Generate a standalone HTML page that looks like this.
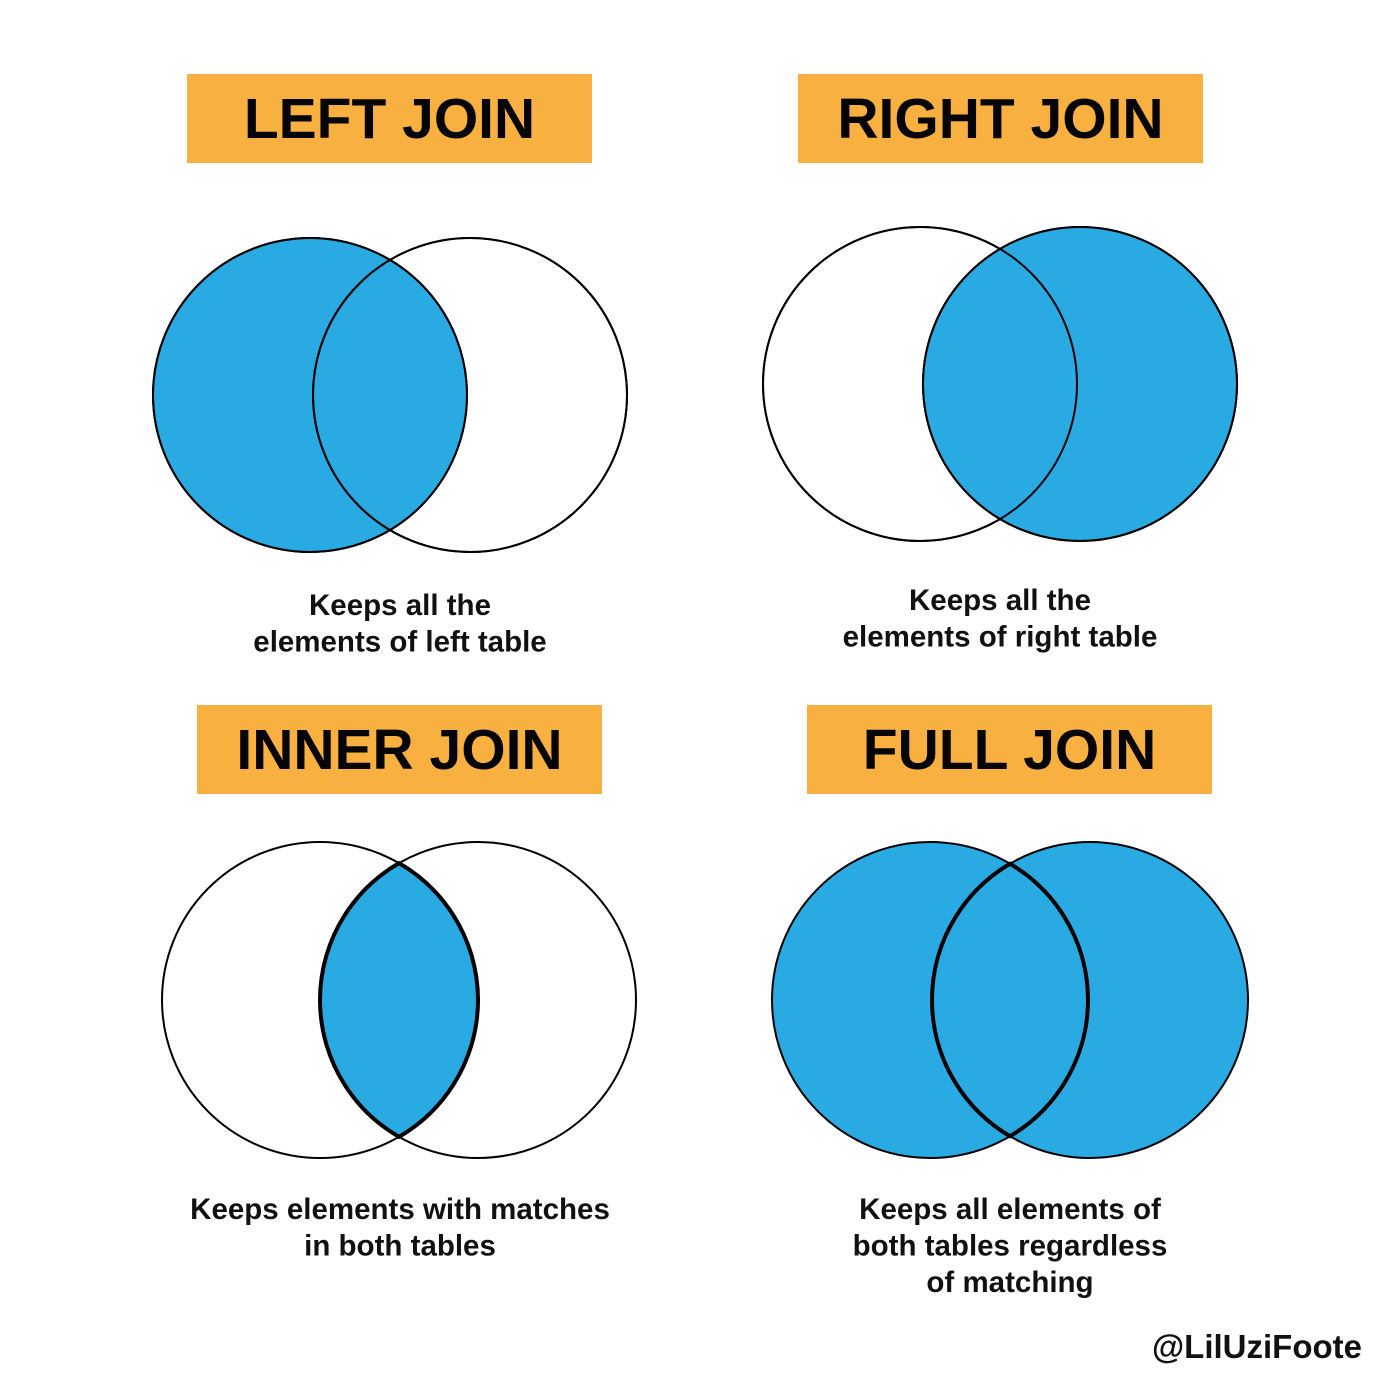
<!DOCTYPE html>
<html><head><meta charset="utf-8"><style>
html,body{margin:0;padding:0;background:#fff;}
svg{display:block;}
text{font-family:"Liberation Sans",Arial,sans-serif;font-weight:bold;}
</style></head><body>
<svg width="1400" height="1400" viewBox="0 0 1400 1400"></svg>
<script>
const titles=["LEFT JOIN","RIGHT JOIN","INNER JOIN","FULL JOIN"];
const bannerX=[187,798,197,807];
const bannerY=[74,74,705,705];
const leftCx=[310,920,320,930];
const rightCx=[470,1080,478,1090];
const cy=[395,384,1000,1000];
const radius=[157,157,158,158];
const fillMode=["left","right","inner","full"];
const captions=[["Keeps all the","elements of left table"],["Keeps all the","elements of right table"],["Keeps elements with matches","in both tables"],["Keeps all elements of","both tables regardless","of matching"]];
const captionX=[400,1000,400,1010];
const captionY=[615,610,1219,1219];
const svg=document.querySelector('svg');
const NS='http://www.w3.org/2000/svg';
const BLUE='#29AAE2';
function mk(t,a){const e=document.createElementNS(NS,t);for(const k in a)e.setAttribute(k,a[k]);svg.appendChild(e);return e;}
for(let i=0;i<4;i++){
  const r=mk('rect',{x:bannerX[i],y:bannerY[i],width:405,height:89,fill:'#F8B040'});
  
  
  const t=mk('text',{x:bannerX[i]+202.5,y:bannerY[i]+64,'text-anchor':'middle','font-size':57,fill:'#050505'});
  t.textContent=titles[i];
  
  
  const L=leftCx[i],R=rightCx[i],Y=cy[i],rr=radius[i];
  const m=fillMode[i];
  const lc=mk('circle',{cx:L,cy:Y,r:rr,fill:(m==='left'||m==='full')?BLUE:'none',stroke:'#000','stroke-width':2});
  
  
  const rc=mk('circle',{cx:R,cy:Y,r:rr,fill:(m==='right'||m==='full')?BLUE:'none',stroke:'#000','stroke-width':2});
  
  
  if(m==='inner'||m==='full'){
    const d=(R-L)/2, h=Math.sqrt(rr*rr-d*d), mx=(L+R)/2;
    const p=mk('path',{d:`M${mx},${Y-h} A${rr},${rr} 0 0 1 ${mx},${Y+h} A${rr},${rr} 0 0 1 ${mx},${Y-h} Z`,fill:BLUE,stroke:'#000','stroke-width':4});
    
    
  } else {
    const o1=mk('circle',{cx:L,cy:Y,r:rr,fill:'none',stroke:'#000','stroke-width':2});
    
    
    const o2=mk('circle',{cx:R,cy:Y,r:rr,fill:'none',stroke:'#000','stroke-width':2});
    
    
  }
  captions[i].forEach((line,j)=>{
    const c=mk('text',{x:captionX[i],y:captionY[i]+j*36.5,'text-anchor':'middle','font-size':29.5,fill:'#111'});
    c.textContent=line;
    
    
  });
}
const w=mk('text',{x:1362,y:1358,'text-anchor':'end','font-size':33,fill:'#111'});
w.textContent='@LilUziFoote';


</script>
</body></html>
